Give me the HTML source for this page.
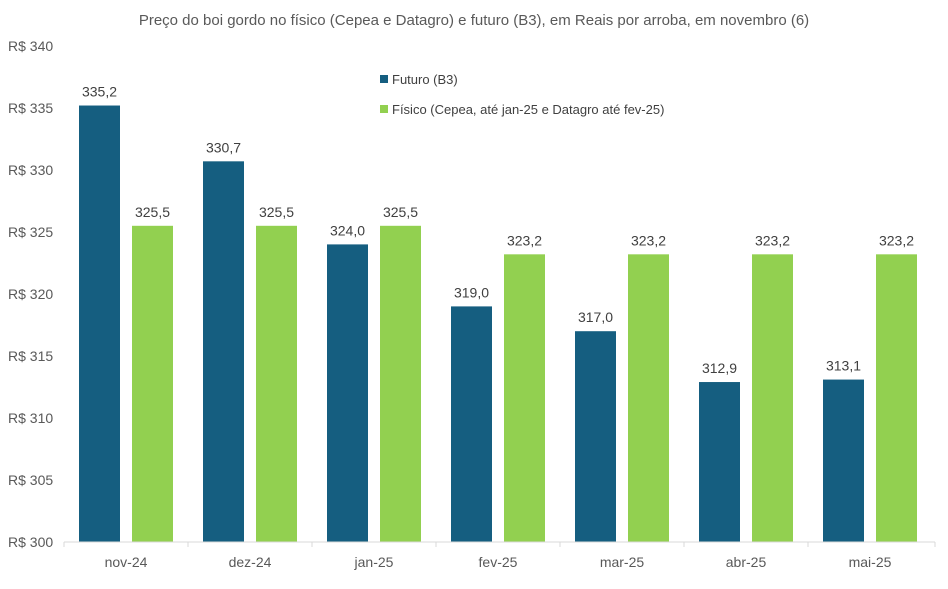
<!DOCTYPE html>
<html><head><meta charset="utf-8"><style>
html,body{margin:0;padding:0;background:#fff;}
svg{display:block;font-family:"Liberation Sans",sans-serif;}
</style></head><body>
<svg id="c" width="948" height="589" viewBox="0 0 948 589" xmlns="http://www.w3.org/2000/svg">
<rect width="948" height="589" fill="#fff"/>
<text x="474" y="25" text-anchor="middle" font-size="15" fill="#595959">Preço do boi gordo no físico (Cepea e Datagro) e futuro (B3), em Reais por arroba, em novembro (6)</text>
<g id="g"></g>
<line x1="64" y1="542" x2="935" y2="542" stroke="#d9d9d9" stroke-width="1"/>
<rect x="380" y="75" width="8" height="8" fill="#155E80"/>
<text x="392" y="84" font-size="13" fill="#404040">Futuro (B3)</text>
<rect x="380" y="105" width="8" height="8" fill="#92D050"/>
<text x="392" y="114" font-size="13" fill="#404040">Físico (Cepea, até jan-25 e Datagro até fev-25)</text>
</svg>
<script>
var g=document.getElementById('g'),s='';
var cats=['nov-24','dez-24','jan-25','fev-25','mar-25','abr-25','mai-25'];
var fut=[335.2,330.7,324.0,319.0,317.0,312.9,313.1];
var fis=[325.5,325.5,325.5,323.2,323.2,323.2,323.2];
function y(v){return 542-(v-300)*12.4;}
for(var v=300;v<=340;v+=5){s+='<text x="8" y="'+(y(v)+5)+'" font-size="14" fill="#595959">R$ '+v+'</text>';}
for(var i=0;i<7;i++){
 var x0=64+124*i;
 s+='<line x1="'+x0+'" y1="542" x2="'+x0+'" y2="547" stroke="#d9d9d9"/>';
 var a=y(fut[i]),b=y(fis[i]);
 s+='<rect x="'+(x0+15)+'" y="'+a+'" width="41" height="'+(542-a)+'" fill="#155E80"/>';
 s+='<rect x="'+(x0+68)+'" y="'+b+'" width="41" height="'+(542-b)+'" fill="#92D050"/>';
 s+='<text x="'+(x0+35.5)+'" y="'+(a-9)+'" text-anchor="middle" font-size="14" fill="#404040">'+fut[i].toFixed(1).replace('.',',')+'</text>';
 s+='<text x="'+(x0+88.5)+'" y="'+(b-9)+'" text-anchor="middle" font-size="14" fill="#404040">'+fis[i].toFixed(1).replace('.',',')+'</text>';
 s+='<text x="'+(x0+62)+'" y="567" text-anchor="middle" font-size="14" fill="#595959">'+cats[i]+'</text>';
}
s+='<line x1="935" y1="542" x2="935" y2="547" stroke="#d9d9d9"/>';
g.innerHTML=s;
</script>
</body></html>
